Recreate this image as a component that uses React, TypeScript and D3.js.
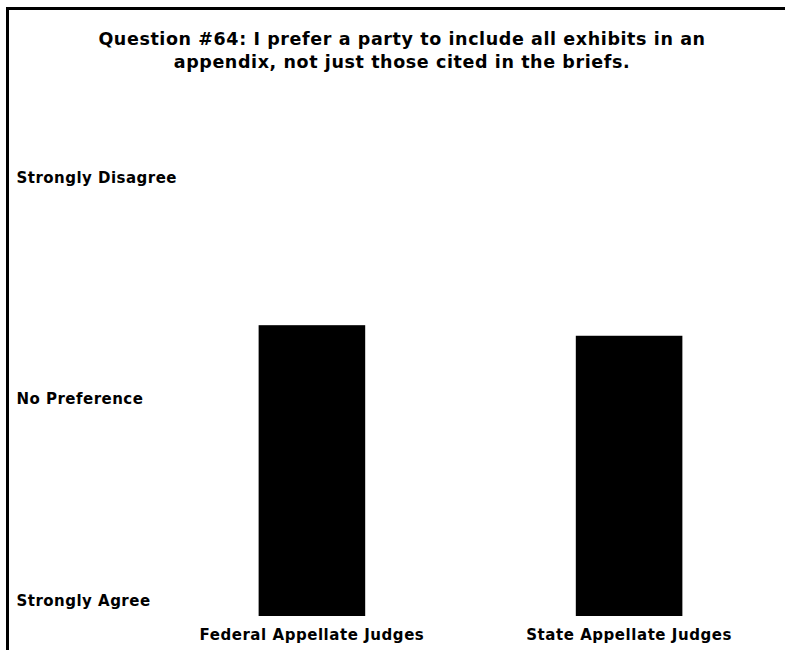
import React from "react";
import * as d3 from "d3";

const titleLines = [
  "Question #64: I prefer a party to include all exhibits in an",
  "appendix, not just those cited in the briefs.",
];
const categories = ["Federal Appellate Judges", "State Appellate Judges"];
const values = [3.75, 3.65];
const tickValues = [1, 2.91, 5];
const tickLabels = ["Strongly Agree", "No Preference", "Strongly Disagree"];

const W = 785;
const H = 650;
const FONT = "'DejaVu Sans', Verdana, sans-serif";

export default function App() {
  const x = d3
    .scaleBand<string>()
    .domain(categories)
    .range([153, 788])
    .paddingInner(0.664)
    .paddingOuter(0.333);
  const y = d3.scaleLinear().domain([1, 5]).range([616, 193]);

  return (
    <svg
      width={W}
      height={H}
      style={{ position: "absolute", left: 0, top: 0, display: "block", background: "#fff" }}
      fontFamily={FONT}
    >
      <rect x={0} y={0} width={W} height={H} fill="#fff" />
      <rect x={7.5} y={8.5} width={W + 20} height={H + 20} fill="none" stroke="#000" strokeWidth={3} />
      {titleLines.map((t, i) => (
        <text
          key={i}
          x={402}
          y={45 + i * 23}
          textAnchor="middle"
          fontSize={17.5}
          letterSpacing={0.6}
          fontWeight="bold"
          fill="#000"
        >
          {t}
        </text>
      ))}
      {tickValues.map((v, i) => (
        <text
          key={i}
          x={16.5}
          y={y(v) - 10.3}
          fontSize={15}
          letterSpacing={0.48}
          fontWeight="bold"
          fill="#000"
        >
          {tickLabels[i]}
        </text>
      ))}
      {categories.map((c, i) => (
        <rect
          key={c}
          x={x(c)}
          y={y(values[i])}
          width={x.bandwidth()}
          height={y(1) - y(values[i])}
          fill="#000"
        />
      ))}
      {categories.map((c) => (
        <text
          key={c}
          x={(x(c) as number) + x.bandwidth() / 2}
          y={640}
          textAnchor="middle"
          fontSize={15}
          letterSpacing={0.55}
          fontWeight="bold"
          fill="#000"
        >
          {c}
        </text>
      ))}
    </svg>
  );
}
